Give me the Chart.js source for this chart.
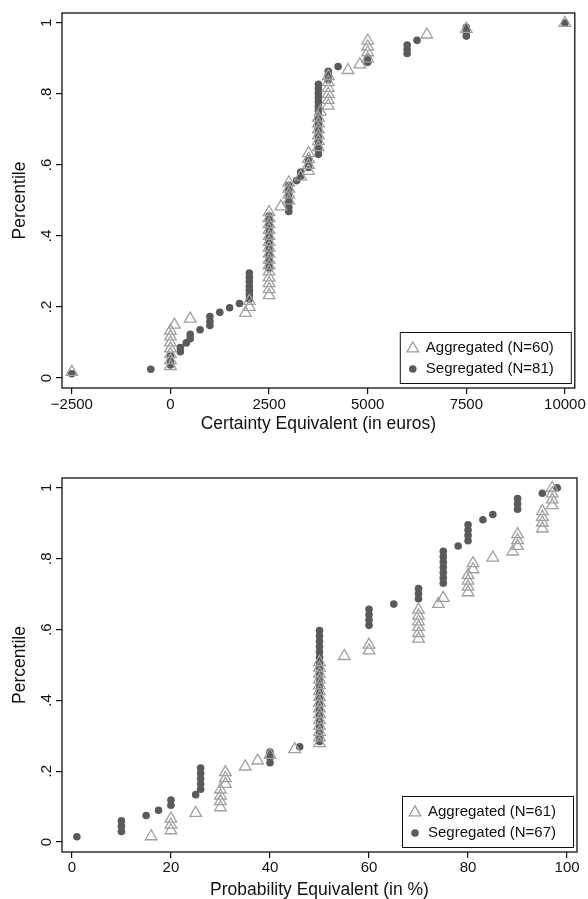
<!DOCTYPE html>
<html>
<head>
<meta charset="utf-8">
<script src="https://cdn.jsdelivr.net/npm/chart.js@4.4.0/dist/chart.umd.min.js"></script>
<style>
  html, body { margin: 0; padding: 0; background: #ffffff; }
  body { width: 588px; height: 899px; overflow: hidden; }
  canvas { display: block; }
</style>
</head>
<body>
<canvas id="ce" width="588" height="440"></canvas>
<canvas id="pe" width="588" height="459"></canvas>
<script>
// ---------- Top panel: Certainty Equivalent (in euros) ----------
const ceAggX = [-2500,
  0, 0, 0, 0, 0, 0, 0,
  100, 500, 1900, 2000, 2000,
  2500, 2500, 2500, 2500, 2500, 2500, 2500, 2500, 2500, 2500, 2500, 2500, 2500, 2500, 2500,
  2800, 3000, 3000, 3000, 3000, 3300,
  3500, 3500, 3500, 3500,
  3750, 3750, 3750, 3750, 3750, 3750, 3800,
  4000, 4000, 4000, 4000, 4000, 4000,
  4500, 4800, 5000, 5000, 5000, 5000, 6500, 7500, 10000];
const ceAggY = [0.017, 0.033, 0.050, 0.067, 0.083, 0.100, 0.117, 0.133, 0.150, 0.167,
  0.183, 0.200, 0.217, 0.233, 0.250, 0.267, 0.283, 0.300, 0.317, 0.333,
  0.350, 0.367, 0.383, 0.400, 0.417, 0.433, 0.450, 0.467, 0.483, 0.500,
  0.517, 0.533, 0.550, 0.567, 0.583, 0.600, 0.617, 0.633, 0.650, 0.667,
  0.683, 0.700, 0.717, 0.733, 0.750, 0.767, 0.783, 0.800, 0.817, 0.833,
  0.850, 0.867, 0.883, 0.900, 0.917, 0.933, 0.950, 0.967, 0.983, 1.000];
const ceSegX = [-2500, -500, 0, 0, 0, 250, 250, 400, 500, 500, 750,
  1000, 1000, 1000, 1250, 1500, 1750,
  2000, 2000, 2000, 2000, 2000, 2000, 2000,
  2500, 2500, 2500, 2500, 2500, 2500, 2500, 2500, 2500, 2500, 2500, 2500, 2500,
  3000, 3000, 3000, 3000, 3000, 3000, 3000,
  3200, 3300, 3300, 3500, 3500, 3500,
  3750, 3750, 3750, 3750, 3750, 3750, 3750, 3750, 3750, 3750, 3750, 3750, 3750, 3750, 3750, 3750, 3750,
  4000, 4000, 4000, 4250, 5000, 5000, 6000, 6000, 6000, 6250, 7500, 7500, 7500, 10000];
const ceSegY = [0.012, 0.025, 0.037, 0.049, 0.062, 0.074, 0.086, 0.099, 0.111, 0.123,
  0.136, 0.148, 0.160, 0.173, 0.185, 0.198, 0.210, 0.222, 0.235, 0.247,
  0.259, 0.272, 0.284, 0.296, 0.309, 0.321, 0.333, 0.346, 0.358, 0.370,
  0.383, 0.395, 0.407, 0.420, 0.432, 0.444, 0.457, 0.469, 0.481, 0.494,
  0.506, 0.519, 0.531, 0.543, 0.556, 0.568, 0.580, 0.593, 0.605, 0.617,
  0.630, 0.642, 0.654, 0.667, 0.679, 0.691, 0.704, 0.716, 0.728, 0.741,
  0.753, 0.765, 0.778, 0.790, 0.802, 0.815, 0.827, 0.840, 0.852, 0.864,
  0.877, 0.889, 0.901, 0.914, 0.926, 0.938, 0.951, 0.963, 0.975, 0.988, 1.000];
const ceXTicks = [-2500, 0, 2500, 5000, 7500, 10000];
const ceXTickLabels = ['\u22122500', '0', '2500', '5000', '7500', '10000'];
const ceLegend = ['Aggregated (N=60)', 'Segregated (N=81)'];

// ---------- Bottom panel: Probability Equivalent (in %) ----------
const peAggX = [16, 20, 20, 20, 25, 30, 30, 30, 30, 31, 31, 31, 35, 37.5, 40, 45,
  50, 50, 50, 50, 50, 50, 50, 50, 50, 50, 50, 50, 50, 50, 50,
  55, 60, 60, 70, 70, 70, 70, 70, 70, 74, 75, 80, 80, 80, 80, 81, 81, 85, 89,
  90, 90, 90, 95, 95, 95, 95, 97, 97, 97, 97];
const peAggY = [0.016, 0.033, 0.049, 0.066, 0.082, 0.098, 0.115, 0.131, 0.148, 0.164,
  0.180, 0.197, 0.213, 0.230, 0.246, 0.262, 0.279, 0.295, 0.311, 0.328,
  0.344, 0.361, 0.377, 0.393, 0.410, 0.426, 0.443, 0.459, 0.475, 0.492,
  0.508, 0.525, 0.541, 0.557, 0.574, 0.590, 0.607, 0.623, 0.639, 0.656,
  0.672, 0.689, 0.705, 0.721, 0.738, 0.754, 0.770, 0.787, 0.803, 0.820,
  0.836, 0.852, 0.869, 0.885, 0.902, 0.918, 0.934, 0.951, 0.967, 0.984, 1.000];
const peSegX = [1, 10, 10, 10, 15, 17.5, 20, 20, 25, 26, 26, 26, 26, 26, 40, 40, 40, 46,
  50, 50, 50, 50, 50, 50, 50, 50, 50, 50, 50, 50, 50, 50, 50, 50, 50, 50, 50, 50, 50, 50,
  60, 60, 60, 60, 65, 70, 70, 70, 75, 75, 75, 75, 75, 75, 75, 78, 80, 80, 80, 80,
  83, 85, 90, 90, 90, 95, 98];
const peSegY = [0.015, 0.030, 0.045, 0.060, 0.075, 0.090, 0.104, 0.119, 0.134, 0.149,
  0.164, 0.179, 0.194, 0.209, 0.224, 0.239, 0.254, 0.269, 0.284, 0.299,
  0.313, 0.328, 0.343, 0.358, 0.373, 0.388, 0.403, 0.418, 0.433, 0.448,
  0.463, 0.478, 0.493, 0.507, 0.522, 0.537, 0.552, 0.567, 0.582, 0.597,
  0.612, 0.627, 0.642, 0.657, 0.672, 0.687, 0.701, 0.716, 0.731, 0.746,
  0.761, 0.776, 0.791, 0.806, 0.821, 0.836, 0.851, 0.866, 0.881, 0.896,
  0.910, 0.925, 0.940, 0.955, 0.970, 0.985, 1.000];
const peXTicks = [0, 20, 40, 60, 80, 100];
const peXTickLabels = ['0', '20', '40', '60', '80', '100'];
const peLegend = ['Aggregated (N=61)', 'Segregated (N=67)'];

// ---------- Shared y axis ----------
const yTicks = [0, 0.2, 0.4, 0.6, 0.8, 1];
const yTickLabels = ['0', '.2', '.4', '.6', '.8', '1'];

const FONT = '"Liberation Sans", Arial, Helvetica, sans-serif';
const TRI_COLOR = '#a0a0a0';
const DOT_COLOR = '#5a5a5a';
const INK = '#111111';

function toPoints(xs, ys) {
  return xs.map((x, i) => ({ x: x, y: ys[i] }));
}

function drawTriangle(ctx, x, y, r) {
  ctx.beginPath();
  ctx.moveTo(x, y - r);
  ctx.lineTo(x + Math.sin(2 * Math.PI / 3) * r, y + r / 2);
  ctx.lineTo(x - Math.sin(2 * Math.PI / 3) * r, y + r / 2);
  ctx.closePath();
}

const stataPlugin = {
  id: 'stata',
  afterDatasetsDraw(chart, args, opts) {
    const a = chart.chartArea;
    const ctx = chart.ctx;
    ctx.save();
    ctx.strokeStyle = INK;
    ctx.lineWidth = 1.3;
    ctx.strokeRect(a.left, a.top, a.right - a.left, a.bottom - a.top);
    ctx.restore();
  },
  afterDraw(chart, args, opts) {
    const a = chart.chartArea;
    const ctx = chart.ctx;
    const ys = chart.scales.y;
    // rotated y tick labels
    ctx.save();
    ctx.fillStyle = INK;
    ctx.font = '15px ' + FONT;
    ctx.textAlign = 'center';
    ctx.textBaseline = 'middle';
    yTicks.forEach((v, i) => {
      const py = ys.getPixelForValue(v);
      ctx.save();
      ctx.translate(a.left - 15.5, py);
      ctx.rotate(-Math.PI / 2);
      ctx.fillText(yTickLabels[i], 0, 0);
      ctx.restore();
    });
    ctx.restore();
    // legend box
    const labels = opts.legend;
    const w = 171, h = 51;
    const bx = a.right - 4 - w, by = a.bottom - 5 - h;
    ctx.save();
    ctx.fillStyle = '#ffffff';
    ctx.fillRect(bx, by, w, h);
    ctx.strokeStyle = INK;
    ctx.lineWidth = 1;
    ctx.strokeRect(bx + 0.5, by + 0.5, w, h);
    // marker 1: hollow triangle
    drawTriangle(ctx, bx + 13, by + 16.5, 6.7);
    ctx.strokeStyle = TRI_COLOR;
    ctx.lineWidth = 1.3;
    ctx.stroke();
    // marker 2: filled circle
    ctx.beginPath();
    ctx.arc(bx + 13, by + 37, 3.8, 0, Math.PI * 2);
    ctx.fillStyle = DOT_COLOR;
    ctx.fill();
    ctx.fillStyle = INK;
    ctx.font = '15px ' + FONT;
    ctx.textAlign = 'left';
    ctx.textBaseline = 'middle';
    ctx.fillText(labels[0], bx + 26, by + 15.5);
    ctx.fillText(labels[1], bx + 26, by + 37);
    ctx.restore();
  }
};

function makeChart(id, cfg) {
  const datasets = [
    {
      label: cfg.legend[0],
      data: toPoints(cfg.aggX, cfg.aggY),
      pointStyle: 'triangle',
      pointRadius: 6.7,
      pointHoverRadius: 6.7,
      pointBorderWidth: 1.3,
      borderColor: TRI_COLOR,
      pointBorderColor: TRI_COLOR,
      backgroundColor: 'rgba(0,0,0,0)',
      pointBackgroundColor: 'rgba(0,0,0,0)',
      showLine: false
    },
    {
      label: cfg.legend[1],
      data: toPoints(cfg.segX, cfg.segY),
      pointStyle: 'circle',
      pointRadius: 3.8,
      pointHoverRadius: 3.8,
      pointBorderWidth: 0,
      borderColor: DOT_COLOR,
      pointBorderColor: DOT_COLOR,
      backgroundColor: DOT_COLOR,
      pointBackgroundColor: DOT_COLOR,
      showLine: false
    }
  ];
  return new Chart(document.getElementById(id), {
    type: 'scatter',
    data: { datasets: datasets },
    plugins: [stataPlugin],
    options: {
      responsive: false,
      animation: false,
      devicePixelRatio: 1,
      layout: { padding: { top: cfg.padTop, right: 11, left: 0, bottom: 0 }, autoPadding: false },
      plugins: {
        legend: { display: false },
        tooltip: { enabled: false },
        stata: { legend: cfg.legend }
      },
      scales: {
        x: {
          type: 'linear',
          min: cfg.xMin,
          max: cfg.xMax,
          afterBuildTicks: (s) => { s.ticks = cfg.xTicks.map(v => ({ value: v })); },
          afterFit: (s) => { s.height = cfg.xAxisH; },
          grid: { drawOnChartArea: false, drawTicks: true, tickLength: 6, color: INK, lineWidth: 1.2 },
          border: { display: false },
          ticks: {
            autoSkip: false,
            maxRotation: 0,
            minRotation: 0,
            padding: cfg.tickPad,
            color: INK,
            font: { family: FONT, size: 15, lineHeight: 1.2 },
            callback: (v, i) => cfg.xTickLabels[i]
          },
          title: {
            display: true,
            text: cfg.xTitle,
            color: INK,
            font: { family: FONT, size: 17.5, lineHeight: 1 },
            padding: { top: 0, bottom: cfg.titlePadB }
          }
        },
        y: {
          type: 'linear',
          min: -0.028,
          max: 1.028,
          afterBuildTicks: (s) => { s.ticks = yTicks.map(v => ({ value: v })); },
          afterFit: (s) => { s.width = 62; },
          grid: { drawOnChartArea: false, drawTicks: true, tickLength: 6, color: INK, lineWidth: 1.2 },
          border: { display: false },
          ticks: { display: false },
          title: {
            display: true,
            text: 'Percentile',
            color: INK,
            font: { family: FONT, size: 17.5, lineHeight: 1 },
            padding: { top: 11, bottom: 0 }
          }
        }
      }
    }
  });
}

makeChart('ce', {
  aggX: ceAggX, aggY: ceAggY, segX: ceSegX, segY: ceSegY,
  legend: ceLegend, xTicks: ceXTicks, xTickLabels: ceXTickLabels,
  xMin: -2750, xMax: 10250, xTitle: 'Certainty Equivalent (in euros)',
  padTop: 13, xAxisH: 52, tickPad: 2, titlePadB: 7
});
makeChart('pe', {
  aggX: peAggX, aggY: peAggY, segX: peSegX, segY: peSegY,
  legend: peLegend, xTicks: peXTicks, xTickLabels: peXTickLabels,
  xMin: -2, xMax: 102, xTitle: 'Probability Equivalent (in %)',
  padTop: 38, xAxisH: 47, tickPad: 1, titlePadB: 0
});
</script>
</body>
</html>
